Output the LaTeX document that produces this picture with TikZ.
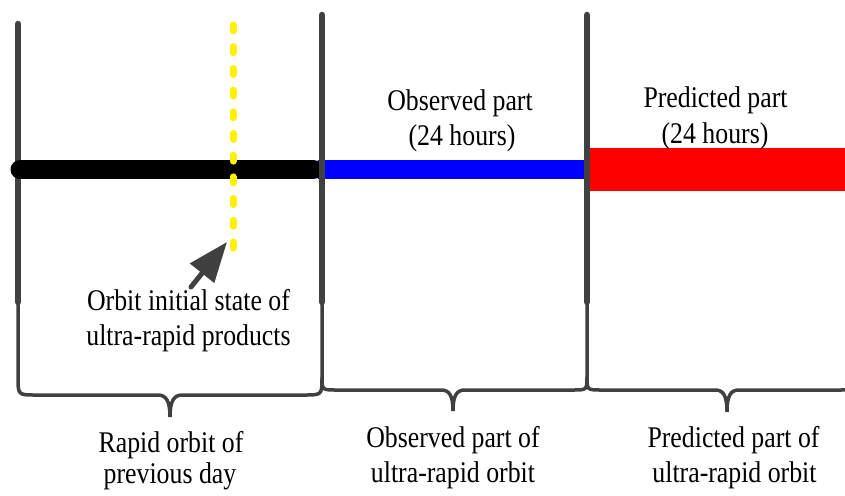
\documentclass[tikz,border=0pt]{standalone}
\usepackage{fontspec}
\setmainfont{Liberation Serif}
\usetikzlibrary{arrows.meta}
\definecolor{lgray}{HTML}{404040}
\tikzset{
  lbl/.style={anchor=base, inner sep=0pt, font=\fontsize{30}{35}\selectfont, xscale=0.86},
  vtick/.style={draw=lgray, line width=6.5pt, line cap=round},
  bracepath/.style={draw=lgray, line width=3.5pt}
}
\begin{document}
\begin{tikzpicture}[x=1pt,y=-1pt]
\useasboundingbox (0,0) rectangle (845,495);
\clip (0,0) rectangle (845,495);
% braces
\draw[bracepath] (18,303) -- (18,377) .. controls (18,395) .. (36,395) -- (158,395)
  .. controls (166,395) and (170,401) .. (170,417)
  .. controls (170,401) and (174,395) .. (182,395) -- (304,395)
  .. controls (322,395) .. (322,377) -- (322,303);
\draw[bracepath] (322,377) .. controls (322,390) .. (337,390) -- (441,390)
  .. controls (449,390) and (453,395) .. (453,411)
  .. controls (453,395) and (457,390) .. (465,390) -- (572,390)
  .. controls (587,390) .. (587,377) -- (587,303);
\draw[bracepath] (587,377) .. controls (587,390) .. (602,390) -- (715,390)
  .. controls (723,390) and (727,395) .. (727,412)
  .. controls (727,395) and (731,390) .. (739,390) -- (838,390)
  .. controls (856,390) .. (856,372);
% left tick (under the black bar)
\coordinate (t1a) at (18,24);  \coordinate (t1b) at (18,302);
\draw[vtick] (t1a) -- (t1b);
% bars
\fill[blue] (318,160) rectangle (587,179);
\draw[black, line width=19pt, line cap=round] (20,169.5) -- (313.5,169.5);
\fill[red] (587,148) rectangle (850,191);
% other ticks (over the bars)
\coordinate (t2a) at (322,15); \coordinate (t2b) at (322,302);
\coordinate (t3a) at (587,15); \coordinate (t3b) at (587,302);
\draw[vtick] (t2a) -- (t2b);
\draw[vtick] (t3a) -- (t3b);
% yellow dashed line
\coordinate (y1) at (233,25);
\coordinate (y2) at (233,250);
\draw[yellow, line width=7pt, line cap=round, dash pattern=on 6pt off 15.7pt] (y1) -- (y2);
% arrow
\coordinate (ar1) at (191,287);
\coordinate (ar2) at (227,242);
\draw[lgray, line width=5pt, line cap=round, -{Triangle[length=40pt,width=30pt]}] (ar1) -- (ar2);
% labels
\node[lbl] (obs1) at (460,110) {Observed part};
\node[lbl] (obs2) at (462,145) {(24 hours)};
\node[lbl] (pre1) at (715.5,107) {Predicted part};
\node[lbl] (pre2) at (715,143) {(24 hours)};
\node[lbl] (ini1) at (188.5,310) {Orbit initial state of};
\node[lbl] (ini2) at (188.5,345) {ultra-rapid products};
\node[lbl] (rap1) at (171,452) {Rapid orbit of};
\node[lbl] (rap2) at (170,483) {previous day};
\node[lbl] (obo1) at (453,447) {Observed part of};
\node[lbl] (obo2) at (453,482) {ultra-rapid orbit};
\node[lbl] (pro1) at (733.5,447) {Predicted part of};
\node[lbl] (pro2) at (734.5,482) {ultra-rapid orbit};
\end{tikzpicture}
\end{document}
